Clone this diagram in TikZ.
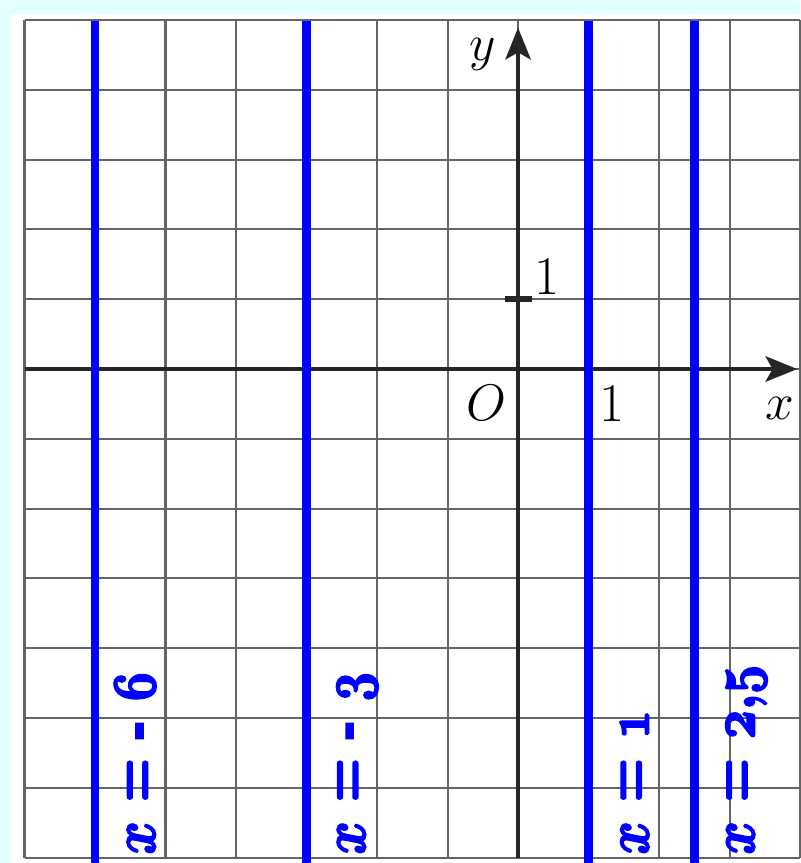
\documentclass[tikz,border=0pt]{standalone}
\usepackage{graphicx}
\usetikzlibrary{arrows.meta}
\definecolor{paleCyan}{RGB}{226,255,255}
\definecolor{gridGray}{RGB}{100,100,100}
% heavier strokes for the rotated labels
\newcommand{\heavytext}[1]{\special{pdf:literal 2 Tr 0.8 w}#1\special{pdf:literal 0 Tr}}
% old style digit from the (bold) math letters
\newcommand{\osd}[1]{$\mathchar"013#1\relax$}
\begin{document}
\begin{tikzpicture}[x=1cm, y=0.99cm,
% common options for the grid and the axes:
gridline/.style = {draw=gridGray, line width=0.85pt},
axis/.style = {draw=black!85, line width=1.6pt,
            -{Stealth[length=0.45cm, width=0.36cm, inset=0.1cm]}},
alabel/.style = {inner sep=0, font=\fontsize{22}{24}\selectfont},
% common options for the blue lines and their labels:
vline/.style = {draw=blue, line width=3.4pt},
vlabel/.style = {rotate=90, anchor=base west, inner sep=0, text=blue,
            font=\fontsize{28}{30}\fontseries{b}\selectfont\boldmath}]
\useasboundingbox (-7.348,-7.077) rectangle (4.0,5.287);
\fill[paleCyan] (-7.348,-7.077) rectangle (4.0,5.287);
\fill[white] (-7.206,-7.077) rectangle (4.0,5.086);
\draw[gridline, xstep=1cm, ystep=0.99cm] (-7,-7) grid (4,5);
% axes
\coordinate (xstart) at (-7,0);
\coordinate (xend) at (3.96,0);
\coordinate (ystart) at (0,-7);
\coordinate (yend) at (0,4.89);
\draw[axis] (xstart) -- (xend);
\draw[axis] (ystart) -- (yend);
\coordinate (tickL) at (-0.18,1);
\coordinate (tickR) at (0.2,1);
\draw[black!85, line width=2.6pt] (tickL) -- (tickR);
\node[alabel] (O) at (-0.454,-0.487) {$O$};
\node[alabel] (onex) at (1.333,-0.50) {1};
\node[alabel] (xname) at (3.716,-0.56) {$x$};
\node[alabel] (yname) at (-0.50,4.5) {$y$};
\node[alabel] (oney) at (0.41,1.32) {1};
% the four lines
\draw[vline] (-6,-7.077) -- (-6,4.99);
\draw[vline] (-3,-7.077) -- (-3,4.99);
\draw[vline] (1,-7.077) -- (1,4.99);
\draw[vline] (2.5,-7.077) -- (2.5,4.99);
\node[vlabel] (Lsix) at (-5.15,-6.963) {\scalebox{0.82}[1]{\heavytext{$x$ = - \osd{6}}}};
\node[vlabel] (Lthree) at (-2.17,-6.963) {\scalebox{0.82}[1]{\heavytext{$x$ = - \osd{3}}}};
\node[vlabel] (Lone) at (1.85,-6.963) {\scalebox{0.82}[1]{\heavytext{$x$ = \osd{1}}}};
\node[vlabel] (Ltwo) at (3.35,-6.963) {\scalebox{0.82}[1]{\heavytext{$x$ = \osd{2}\osd{B}\osd{5}}}};
\end{tikzpicture}
\end{document}
